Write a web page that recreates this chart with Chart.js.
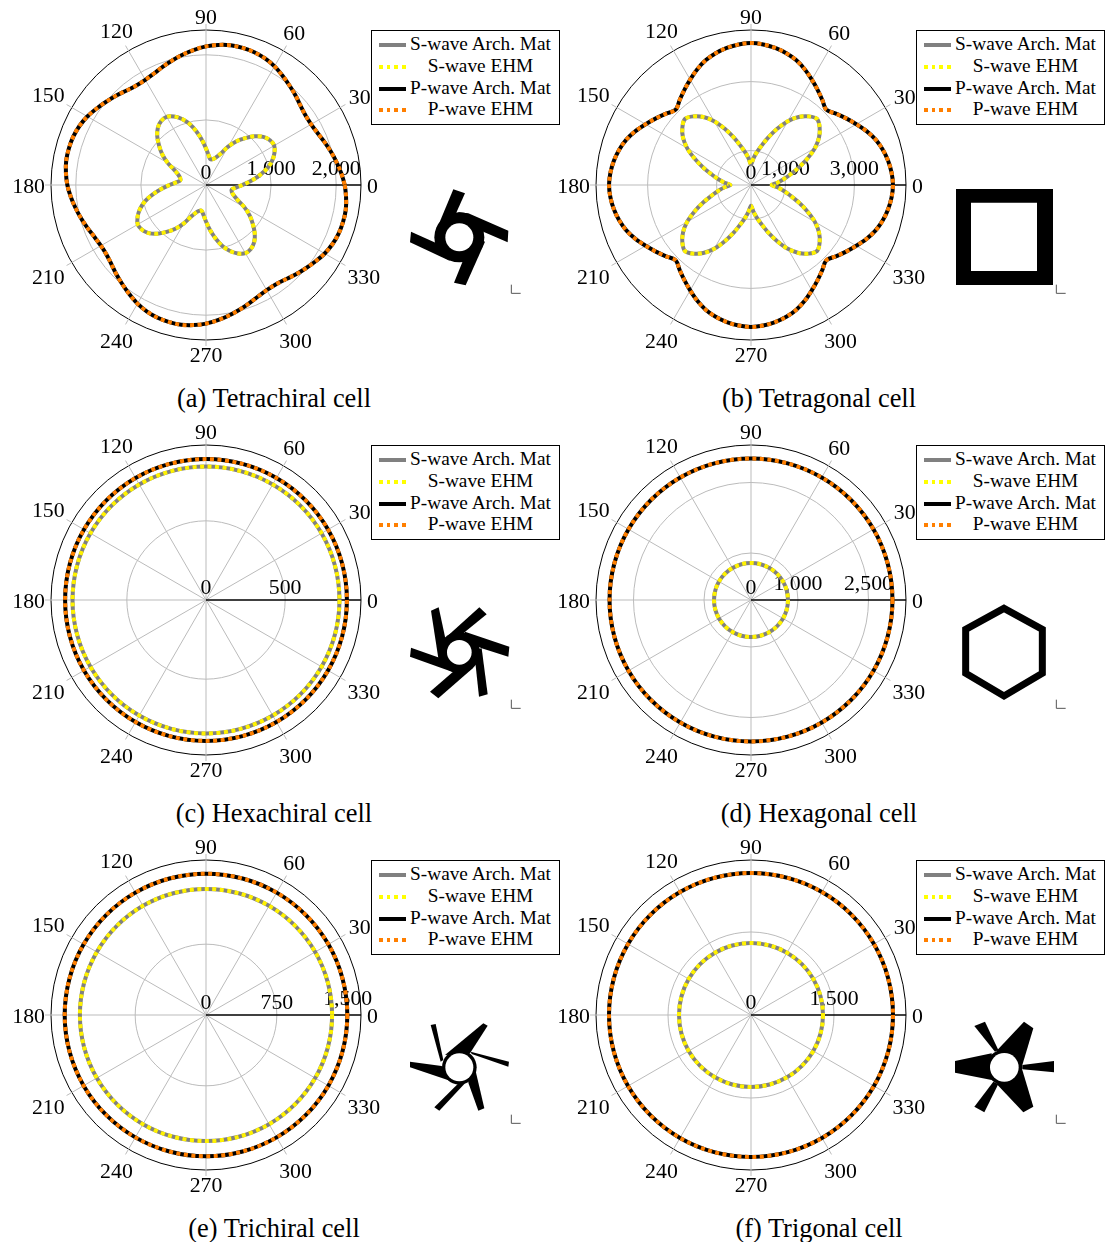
<!DOCTYPE html>
<html lang="en">
<head>
  <meta charset="UTF-8">
  <title>Wave speed polar plots</title>
  <style>
    html, body { margin: 0; padding: 0; background: #fff; }
    body { position: relative; width: 1106px; height: 1242px; overflow: hidden; font-family: "Liberation Serif", serif; color: #000; }
    canvas { position: absolute; }
    .legend { position: absolute; width: 187px; height: 93px; border: 1px solid #000; background: #fff; box-sizing: content-box; }
    .legend span { position: absolute; left: 30px; width: 157px; text-align: center; font-size: 19.3px; line-height: 20px; white-space: nowrap; }
    .legend i { position: absolute; left: 7px; width: 27px; height: 4px; }
    .caption { position: absolute; width: 300px; text-align: center; font-size: 26.4px; line-height: 30px; white-space: nowrap; }
    svg { position: absolute; }
  </style>
</head>
<body>
  <script src="https://cdn.jsdelivr.net/npm/chart.js"></script>
  <script>
    const FONT = '"Liberation Serif", serif';

    // angles, counter-clockwise from the right
    const angles5 = [0,5,10,15,20,25,30,35,40,45,50,55,60,65,70,75,80,85,90,95,100,105,110,115,120,125,130,135,140,145,150,155,160,165,170,175,
      180,185,190,195,200,205,210,215,220,225,230,235,240,245,250,255,260,265,270,275,280,285,290,295,300,305,310,315,320,325,330,335,340,345,350,355];
    const angles15 = [0,15,30,45,60,75,90,105,120,135,150,165,180,195,210,225,240,255,270,285,300,315,330,345];
    const angleLabels = [0,30,60,90,120,150,180,210,240,270,300,330];

    const seriesNames = ['S-wave Arch. Mat', 'S-wave EHM', 'P-wave Arch. Mat', 'P-wave EHM'];

    // (a) tetrachiral
    const tetrachiralS = [
      560,690,830,970,1080,1160,1210,1200,1150,1060,940,820,680,530,450,410,400,460,
      560,690,830,970,1080,1160,1210,1200,1150,1060,940,820,680,530,450,410,400,460,
      560,690,830,970,1080,1160,1210,1200,1150,1060,940,820,680,530,450,410,400,460,
      560,690,830,970,1080,1160,1210,1200,1150,1060,940,820,680,530,450,410,400,460];
    const tetrachiralP = [
      2130,2085,2035,1985,1935,1890,1865,1865,1895,1945,1995,2050,2105,2145,2170,2180,2180,2160,
      2130,2085,2035,1985,1935,1890,1865,1865,1895,1945,1995,2050,2105,2145,2170,2180,2180,2160,
      2130,2085,2035,1985,1935,1890,1865,1865,1895,1945,1995,2050,2105,2145,2170,2180,2180,2160,
      2130,2085,2035,1985,1935,1890,1865,1865,1895,1945,1995,2050,2105,2145,2170,2180,2180,2160];
    // (b) tetragonal
    const tetragonalS = [
      600,770,960,1180,1470,1800,2140,2410,2600,2710,2600,2410,2140,1800,1470,1180,960,770,
      600,770,960,1180,1470,1800,2140,2410,2600,2710,2600,2410,2140,1800,1470,1180,960,770,
      600,770,960,1180,1470,1800,2140,2410,2600,2710,2600,2410,2140,1800,1470,1180,960,770,
      600,770,960,1180,1470,1800,2140,2410,2600,2710,2600,2410,2140,1800,1470,1180,960,770];
    const tetragonalP = [
      4120,4095,4040,3960,3850,3700,3530,3370,3220,3090,3220,3370,3530,3700,3850,3960,4040,4095,
      4120,4095,4040,3960,3850,3700,3530,3370,3220,3090,3220,3370,3530,3700,3850,3960,4040,4095,
      4120,4095,4040,3960,3850,3700,3530,3370,3220,3090,3220,3370,3530,3700,3850,3960,4040,4095,
      4120,4095,4040,3960,3850,3700,3530,3370,3220,3090,3220,3370,3530,3700,3850,3960,4040,4095];
    // (c) hexachiral
    const hexachiralS = [843,843,843,843,843,843,843,843,843,843,843,843,843,843,843,843,843,843,843,843,843,843,843,843];
    const hexachiralP = [890,890,890,890,890,890,890,890,890,890,890,890,890,890,890,890,890,890,890,890,890,890,890,890];
    // (d) hexagonal
    const hexagonalS = [787,787,787,787,787,787,787,787,787,787,787,787,787,787,787,787,787,787,787,787,787,787,787,787];
    const hexagonalP = [3010,3010,3010,3010,3010,3010,3010,3010,3010,3010,3010,3010,3010,3010,3010,3010,3010,3010,3010,3010,3010,3010,3010,3010];
    // (e) trichiral
    const trichiralS = [1335,1335,1335,1335,1335,1335,1335,1335,1335,1335,1335,1335,1335,1335,1335,1335,1335,1335,1335,1335,1335,1335,1335,1335];
    const trichiralP = [1496,1496,1496,1496,1496,1496,1496,1496,1496,1496,1496,1496,1496,1496,1496,1496,1496,1496,1496,1496,1496,1496,1496,1496];
    // (f) trigonal
    const trigonalS = [1301,1301,1301,1301,1301,1301,1301,1301,1301,1301,1301,1301,1301,1301,1301,1301,1301,1301,1301,1301,1301,1301,1301,1301];
    const trigonalP = [2566,2566,2566,2566,2566,2566,2566,2566,2566,2566,2566,2566,2566,2566,2566,2566,2566,2566,2566,2566,2566,2566,2566,2566];

    const aTicks = [1000, 2000], bTicks = [1000, 3000], cTicks = [500];
    const dTicks = [1000, 2500], eTicks = [750, 1500], fTicks = [1500];

    // outline shapes of the unit cells, in a 390x360 box
    const hole = (r) => `<circle cx="178" cy="172" r="${r}" fill="#fff"/>`;
    const ring = (r) => `<circle cx="178" cy="172" r="${r}" fill="#000"/>`;
    const poly = (p) => `<polygon points="${p}" fill="#000"/>`;
    const icons = {
      a: ring(75) + poly('160,28 195,40 150,140 105,160') + poly('33,155 110,190 150,243 30,187') +
         poly('162,308 197,316 255,185 218,170') + poly('325,152 323,187 250,155 175,130 175,97 205,100') + hole(42),
      b: poly('33,27 324,27 324,315 33,315 33,27 78,68 78,273 276,273 276,68 78,68'),
      c: ring(62) + poly('93,47 116,37 135,125 140,190 115,190') + poly('33,158 30,185 160,232 165,205') +
         poly('90,290 115,310 220,218 200,195') + poly('237,305 263,298 245,160 222,165') +
         poly('328,155 325,185 245,160 195,135 195,110') + poly('238,37 260,58 190,115 135,130'),
      d: '<polygon points="177,40 292,103 292,235 177,303 62,235 62,103" fill="none" stroke="#000" stroke-width="21"/>',
      e: ring(52) + poly('92,45 107,42 130,150 122,155') + poly('30,155 125,168 150,212 30,172') +
         poly('103,292 118,302 195,220 180,215') + poly('235,302 253,295 225,175 205,218') +
         poly('327,155 325,170 215,132 212,125') + poly('250,40 263,47 210,130 135,135'),
      f: ring(54) + poly('88,48 120,35 160,120 150,125') + poly('30,153 30,188 140,210 140,130') +
         poly('88,290 118,307 160,222 145,215') + poly('235,307 265,290 232,180 155,222') +
         poly('327,153 327,187 232,178 232,165') + poly('237,35 265,55 232,165 155,122')
    };
    icons.c += hole(37); icons.e += hole(42); icons.f += hole(43);

    const panels = [
      { id: 'a', caption: '(a) Tetrachiral cell', cx: 206, cy: 185, angles: angles5, s: tetrachiralS, p: tetrachiralP, ticks: aTicks, max: 2381 },
      { id: 'b', caption: '(b) Tetragonal cell', cx: 751, cy: 185, angles: angles5, s: tetragonalS, p: tetragonalP, ticks: bTicks, max: 4498 },
      { id: 'c', caption: '(c) Hexachiral cell', cx: 206, cy: 600, angles: angles15, s: hexachiralS, p: hexachiralP, ticks: cTicks, max: 979 },
      { id: 'd', caption: '(d) Hexagonal cell', cx: 751, cy: 600, angles: angles15, s: hexagonalS, p: hexagonalP, ticks: dTicks, max: 3298 },
      { id: 'e', caption: '(e) Trichiral cell', cx: 206, cy: 1015, angles: angles15, s: trichiralS, p: trichiralP, ticks: eTicks, max: 1641 },
      { id: 'f', caption: '(f) Trigonal cell', cx: 751, cy: 1015, angles: angles15, s: trigonalS, p: trigonalP, ticks: fTicks, max: 2801 }
    ];

    // radar runs clockwise, the plots run counter-clockwise
    const clockwise = (arr) => [arr[0], ...arr.slice(1).reverse()];

    // labels and outer tick marks, radar's own ones would be rotated
    const polarLabels = {
      id: 'polarLabels',
      beforeDatasetsDraw(chart, args, opts) {
        const { ctx } = chart;
        const scale = chart.scales.r;
        const R = scale.drawingArea;
        ctx.save();
        ctx.font = '21.8px ' + FONT;
        ctx.fillStyle = '#000';
        ctx.textAlign = 'center';

        // tick marks sticking out of the outer circle
        ctx.strokeStyle = '#bbb';
        ctx.lineWidth = 1;
        angleLabels.forEach((a) => {
          if (a === 0) return;
          const i = chart.data.labels.indexOf(a);
          const p0 = scale.getPointPosition(i, R);
          const p1 = scale.getPointPosition(i, R + 6);
          ctx.beginPath();
          ctx.moveTo(p0.x, p0.y);
          ctx.lineTo(p1.x, p1.y);
          ctx.stroke();
        });

        // angle labels
        ctx.textBaseline = 'middle';
        angleLabels.forEach((a) => {
          const i = chart.data.labels.indexOf(a);
          const halfW = ctx.measureText(String(a)).width / 2;
          const c = Math.abs(Math.cos(a * Math.PI / 180));
          const s = Math.abs(Math.sin(a * Math.PI / 180));
          const extra = a % 90 === 0 ? 0 : 3;
          const p = scale.getPointPosition(i, R + 6 + halfW * c + 8 * s + extra);
          ctx.fillText(String(a), p.x, p.y + 2);
        });

        // radial tick labels along the 0 direction
        ctx.textBaseline = 'alphabetic';
        [0, ...opts.ticks].forEach((v) => {
          const text = v.toLocaleString('en-US');
          const p = scale.getPointPosition(0, scale.getDistanceFromCenterForValue(v));
          ctx.fillText(text, p.x, p.y - (text.includes(',') ? 10 : 6.5));
        });
        ctx.restore();
      }
    };

    function drawPanel(cfg) {
      const canvas = document.createElement('canvas');
      canvas.width = 390;
      canvas.height = 375;
      canvas.style.left = (cfg.cx - 195) + 'px';
      canvas.style.top = (cfg.cy - 185) + 'px';
      document.body.appendChild(canvas);

      const sVals = clockwise(cfg.s);
      const pVals = clockwise(cfg.p);
      new Chart(canvas.getContext('2d'), {
        type: 'radar',
        plugins: [polarLabels],
        data: {
          labels: clockwise(cfg.angles),
          datasets: [
            { label: seriesNames[0], data: sVals, borderColor: '#808080', order: 4 },
            { label: seriesNames[1], data: sVals, borderColor: '#fff200', borderDash: [4, 3.5], order: 3 },
            { label: seriesNames[2], data: pVals, borderColor: '#000', order: 2 },
            { label: seriesNames[3], data: pVals, borderColor: '#ff7f00', borderDash: [4, 3.5], order: 1 }
          ]
        },
        options: {
          responsive: false,
          animation: false,
          devicePixelRatio: 1,
          layout: { padding: { left: 40, right: 39, top: 30, bottom: 34 } },
          elements: {
            point: { radius: 0, hoverRadius: 0 },
            line: { borderWidth: 4, tension: 0.33, fill: false, borderCapStyle: 'butt' }
          },
          scales: {
            r: {
              min: 0,
              max: cfg.max,
              startAngle: 90,
              afterBuildTicks: (scale) => {
                scale.ticks = [0, ...cfg.ticks, cfg.max].map((value) => ({ value }));
              },
              ticks: { display: false },
              pointLabels: { display: false },
              grid: {
                circular: true,
                lineWidth: 1,
                color: (ctx) => (ctx.tick && ctx.tick.value === cfg.max ? '#000' : '#bbb')
              },
              angleLines: {
                lineWidth: (ctx) => (ctx.label === 0 ? 1.7 : 1),
                color: (ctx) => (ctx.label === 0 ? '#000' : (ctx.label % 30 === 0 ? '#bbb' : 'transparent'))
              }
            }
          },
          plugins: {
            legend: { display: false },
            tooltip: { enabled: false },
            polarLabels: { ticks: cfg.ticks }
          }
        }
      });

      // legend box
      const dx = cfg.cx - 206;
      const dy = cfg.cy - 185;
      const legend = document.createElement('div');
      legend.className = 'legend';
      legend.style.left = (371 + dx) + 'px';
      legend.style.top = (30 + dy) + 'px';
      const rows = [14, 36, 58, 79];
      const samples = [
        'background:#808080',
        'background:repeating-linear-gradient(90deg,#ffff00 0 4px,transparent 4px 7.5px)',
        'background:#000',
        'background:repeating-linear-gradient(90deg,#ff7f00 0 4px,transparent 4px 7.5px)'
      ];
      seriesNames.forEach((name, k) => {
        legend.innerHTML += `<i style="top:${rows[k] - 2}px;${samples[k]}"></i><span style="top:${rows[k] - 11}px">${name}</span>`;
      });
      document.body.appendChild(legend);

      // unit cell drawing
      const svg = `<svg viewBox="0 0 390 360" width="130" height="120" style="left:${400 + dx}px;top:${180 + dy}px">` +
        icons[cfg.id] + '<path d="M334 314V340H362" fill="none" stroke="#555" stroke-width="3"/></svg>';
      document.body.insertAdjacentHTML('beforeend', svg);

      // caption
      document.body.insertAdjacentHTML('beforeend',
        `<div class="caption" style="left:${124 + dx}px;top:${383 + dy}px">${cfg.caption}</div>`);
    }

    panels.forEach(drawPanel);
  </script>
</body>
</html>
